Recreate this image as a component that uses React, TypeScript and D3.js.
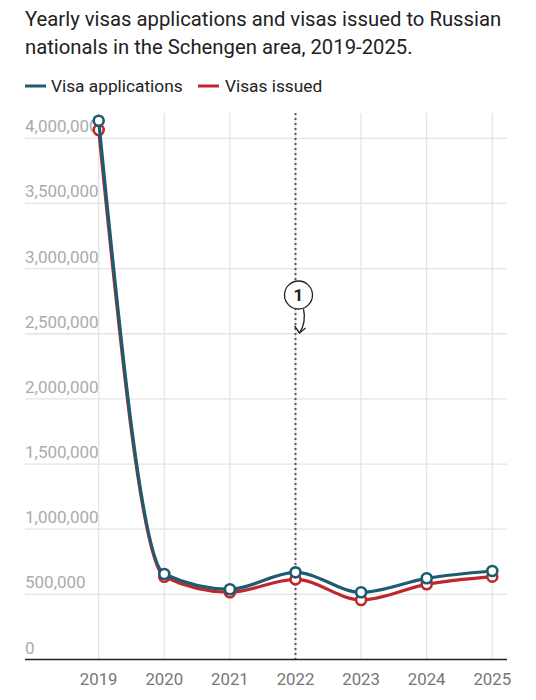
import React from "react";
import * as d3 from "d3";

const years = [2019, 2020, 2021, 2022, 2023, 2024, 2025];
const applications = [4135000, 656000, 539000, 669000, 516000, 623000, 679000];
const issued = [4064000, 635000, 516000, 615000, 457000, 577000, 636000];
const yTicks = [0, 500000, 1000000, 1500000, 2000000, 2500000, 3000000, 3500000, 4000000];
const seriesNames = ["Visa applications", "Visas issued"];
const colors = ["#1d5b70", "#c0272d"];
const annotationYear = 2022;

export default function App() {
  const W = 536, H = 700;
  const left = 25, right = 507;
  const x = d3.scaleLinear().domain([2019, 2025]).range([98.7, 492.3]);
  const y = d3.scaleLinear().domain([0, 4000000]).range([659.5, 138.3]);
  const line = d3
    .line<number>()
    .x((_, i) => x(years[i]))
    .y((d) => y(d))
    .curve(d3.curveMonotoneX);
  const fmt = d3.format(",");
  const series = [issued, applications];
  const serCol = [colors[1], colors[0]];
  const ax = x(annotationYear);
  return (
    <svg
      width={W}
      height={H}
      style={{ position: "absolute", left: 0, top: 0, fontFamily: "Roboto, sans-serif" }}
    >
      <rect width={W} height={H} fill="#fff" />
      <text x={25} y={26} fontSize={20.3} fill="#222">
        Yearly visas applications and visas issued to Russian
      </text>
      <text x={25} y={54} fontSize={20.3} fill="#222">
        nationals in the Schengen area, 2019-2025.
      </text>
      {/* legend */}
      <line x1={25} x2={46} y1={86} y2={86} stroke={colors[0]} strokeWidth={3} />
      <text x={51} y={92} fontSize={17.3} fill="#222">{seriesNames[0]}</text>
      <line x1={198} x2={219} y1={86} y2={86} stroke={colors[1]} strokeWidth={3} />
      <text x={225} y={92} fontSize={17.3} fill="#222">{seriesNames[1]}</text>
      {/* vertical grid */}
      {years.map((yr) => (
        <line key={yr} x1={x(yr)} x2={x(yr)} y1={113} y2={659.5} stroke="#e4e4e4" strokeWidth={1.3} />
      ))}
      {/* horizontal grid */}
      {yTicks.map((t) =>
        t === 0 ? null : (
          <line key={t} x1={left} x2={right} y1={y(t)} y2={y(t)} stroke="#e4e4e4" strokeWidth={1.3} />
        )
      )}
      {yTicks.map((t) => (
        <text key={"l" + t} x={left} y={y(t) - 6} fontSize={17} fill="#ababab">
          {fmt(t)}
        </text>
      ))}
      {/* annotation dotted line */}
      <line x1={ax} x2={ax} y1={113} y2={659.5} stroke="#555" strokeWidth={2} strokeDasharray="2,3" />
      <line x1={left} x2={right} y1={659.5} y2={659.5} stroke="#222" strokeWidth={1.5} />
      {years.map((yr) => (
        <text key={"x" + yr} x={x(yr)} y={685} fontSize={16.8} fill="#777" textAnchor="middle">
          {yr}
        </text>
      ))}
      {series.map((s, k) => (
        <g key={k}>
          <path d={line(s) || ""} fill="none" stroke={serCol[k]} strokeWidth={3.2} />
          {s.map((v, i) => (
            <circle key={i} cx={x(years[i])} cy={y(v)} r={5} fill="#fff" stroke={serCol[k]} strokeWidth={2.6} />
          ))}
        </g>
      ))}
      {/* annotation marker */}
      <circle cx={ax + 3} cy={295} r={14} fill="#fff" stroke="#222" strokeWidth={1.3} />
      <text x={ax + 3} y={301} fontSize={17} fontWeight="bold" textAnchor="middle" fill="#222">
        1
      </text>
      <path
        d={`M ${ax + 8} 309 Q ${ax + 11} 322 ${ax + 4} 333`}
        fill="none"
        stroke="#222"
        strokeWidth={1.3}
      />
      <path
        d={`M ${ax - 1} 326 L ${ax + 4} 333 L ${ax + 10} 328`}
        fill="none"
        stroke="#222"
        strokeWidth={1.3}
      />
    </svg>
  );
}
